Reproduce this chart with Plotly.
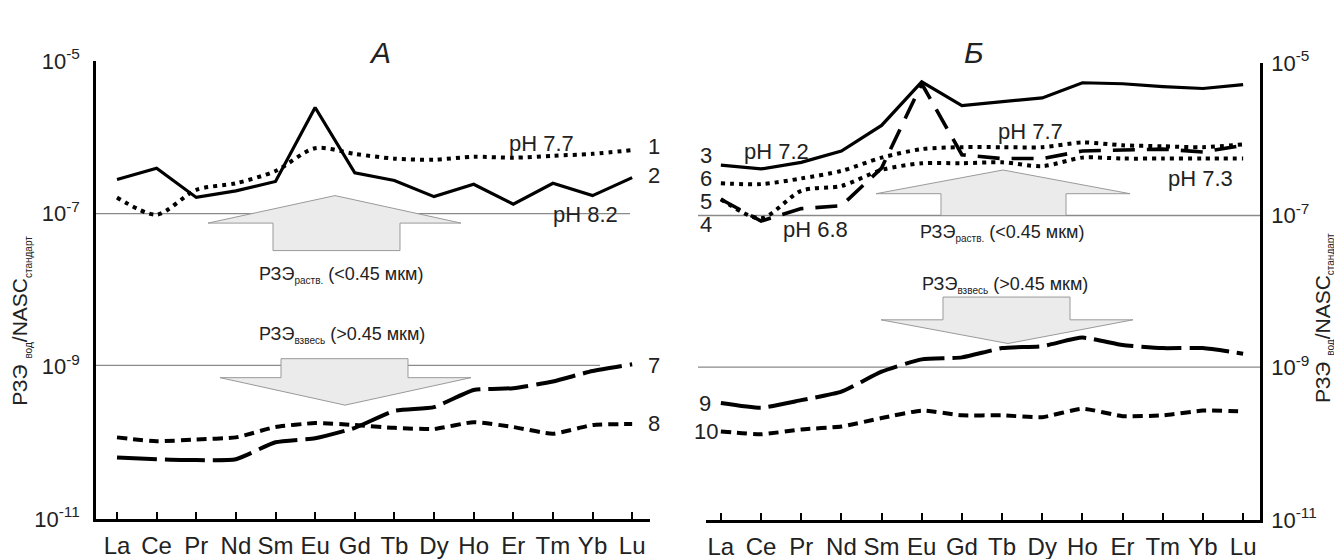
import plotly.graph_objects as go

W, H = 1342, 559

# ---------------- data ----------------
elements = ["La", "Ce", "Pr", "Nd", "Sm", "Eu", "Gd", "Tb", "Dy", "Ho", "Er", "Tm", "Yb", "Lu"]

# Panel А (left)
a_line1_ph77 = [1.63e-7, 9.7e-8, 2.05e-7, 2.50e-7, 3.62e-7, 7.2e-7, 6.07e-7, 5.25e-7, 5.1e-7, 5.56e-7, 5.4e-7, 5.73e-7, 6.07e-7, 6.8e-7]
a_line2_ph82 = [2.80e-7, 3.94e-7, 1.63e-7, 1.99e-7, 2.64e-7, 2.46e-6, 3.42e-7, 2.72e-7, 1.67e-7, 2.43e-7, 1.33e-7, 2.50e-7, 1.72e-7, 2.96e-7]
a_line7 = [6.4e-11, 6.06e-11, 5.9e-11, 6.06e-11, 1.01e-10, 1.14e-10, 1.56e-10, 2.61e-10, 2.92e-10, 4.89e-10, 5.17e-10, 6.32e-10, 8.67e-10, 1.06e-9]
a_line8 = [1.17e-10, 1.04e-10, 1.10e-10, 1.17e-10, 1.60e-10, 1.80e-10, 1.70e-10, 1.56e-10, 1.51e-10, 1.85e-10, 1.60e-10, 1.31e-10, 1.70e-10, 1.75e-10]

# Panel Б (right)
b_line3_ph72 = [4.54e-7, 4.05e-7, 4.94e-7, 6.97e-7, 1.51e-6, 5.64e-6, 2.75e-6, 3.09e-6, 3.47e-6, 5.48e-6, 5.32e-6, 4.89e-6, 4.61e-6, 5.17e-6]
b_line4_ph68 = [1.62e-7, 8.37e-8, 1.22e-7, 1.33e-7, 4.16e-7, 5.32e-6, 6.22e-7, 5.54e-7, 5.54e-7, 6.97e-7, 7.18e-7, 7.38e-7, 6.77e-7, 8.28e-7]
b_line5_ph73 = [1.62e-7, 9.12e-8, 2.09e-7, 2.42e-7, 3.93e-7, 4.81e-7, 4.81e-7, 4.95e-7, 4.41e-7, 5.70e-7, 5.54e-7, 5.54e-7, 5.54e-7, 5.54e-7]
b_line6_ph77 = [2.63e-7, 2.56e-7, 3.04e-7, 3.82e-7, 5.70e-7, 7.38e-7, 7.82e-7, 7.82e-7, 7.82e-7, 9.02e-7, 8.28e-7, 8.04e-7, 7.82e-7, 8.51e-7]
b_line9 = [3.43e-10, 2.97e-10, 3.73e-10, 4.83e-10, 8.81e-10, 1.28e-9, 1.36e-9, 1.80e-9, 1.91e-9, 2.47e-9, 1.97e-9, 1.80e-9, 1.80e-9, 1.52e-9]
b_line10 = [1.45e-10, 1.33e-10, 1.54e-10, 1.68e-10, 2.17e-10, 2.72e-10, 2.36e-10, 2.36e-10, 2.23e-10, 2.88e-10, 2.30e-10, 2.36e-10, 2.72e-10, 2.65e-10]

y_tickvals = [1e-11, 1e-9, 1e-7, 1e-5]
y_ticktext = ["10<sup>-11</sup>", "10<sup>-9</sup>", "10<sup>-7</sup>", "10<sup>-5</sup>"]

FONT = "Liberation Sans, Arial, sans-serif"


def px(x):
    return x / W


def py(y):
    return 1 - y / H


fig = go.Figure()

SOLID = dict(color="black", width=3.2)
DOT = dict(color="black", width=4, dash="4px,5px", shape="spline", smoothing=0.8)
LONG = dict(color="black", width=4, dash="40px,8px", shape="spline", smoothing=0.5)
SHORT = dict(color="black", width=4, dash="10px,6px", shape="spline", smoothing=0.5)
MID = dict(color="black", width=3.6, dash="22px,12px")


def add(x, y, line, xa, ya):
    fig.add_trace(go.Scatter(x=x, y=y, mode="lines", line=line, xaxis=xa, yaxis=ya,
                             showlegend=False, hoverinfo="skip"))


add(elements, a_line1_ph77, DOT, "x", "y")
add(elements, a_line2_ph82, SOLID, "x", "y")
add(elements, a_line7, LONG, "x", "y")
add(elements, a_line8, SHORT, "x", "y")

add(elements, b_line3_ph72, SOLID, "x2", "y2")
add(elements, b_line6_ph77, DOT, "x2", "y2")
add(elements, b_line5_ph73, DOT, "x2", "y2")
add(elements, b_line4_ph68, MID, "x2", "y2")
add(elements, b_line9, LONG, "x2", "y2")
add(elements, b_line10, SHORT, "x2", "y2")

axis_common = dict(showgrid=False, zeroline=False, showline=True, linecolor="black", linewidth=2.5)
XTICKF = dict(size=24, family=FONT, color="#222")
YTICKF = dict(size=22, family=FONT, color="#222")

fig.update_layout(
    width=W, height=H, margin=dict(l=0, r=0, t=0, b=0),
    paper_bgcolor="white", plot_bgcolor="rgba(0,0,0,0)",
    font=dict(family=FONT, color="#222"),
    xaxis=dict(domain=[px(88), px(642)], anchor="y", type="category", range=[-0.53, 13.45],
               ticks="inside", ticklen=7, tickwidth=1.5, tickcolor="black",
               tickfont=XTICKF, ticklabelstandoff=4, **axis_common),
    yaxis=dict(domain=[py(522), py(39)], anchor="x", type="log", range=[-11, -5],
               tickvals=y_tickvals, ticktext=y_ticktext, ticks="",
               tickfont=YTICKF, ticklabelstandoff=9, **axis_common),
    xaxis2=dict(domain=[px(698), px(1252)], anchor="y2", type="category", range=[-0.37, 13.42],
                ticks="inside", ticklen=7, tickwidth=1.5, tickcolor="black",
                tickfont=XTICKF, ticklabelstandoff=4, **axis_common),
    yaxis2=dict(domain=[py(523), py(41)], anchor="x2", side="right", type="log", range=[-11, -5],
                tickvals=y_tickvals, ticktext=y_ticktext, ticks="",
                tickfont=YTICKF, ticklabelstandoff=4, **axis_common),
)

shapes = []
REF = dict(color="#8a8a8a", width=1.3)
# reference horizontal lines
for (x0, x1, y) in [(88, 622, 200), (88, 592, 360), (690, 1252, 202), (690, 1252, 362)]:
    shapes.append(dict(type="line", xref="paper", yref="paper", x0=px(x0), x1=px(x1),
                       y0=py(y), y1=py(y), line=REF, layer="below"))


def poly(pts):
    s = "M " + " L ".join(f"{px(a):.5f},{py(b):.5f}" for a, b in pts) + " Z"
    return dict(type="path", xref="paper", yref="paper", path=s,
                fillcolor="#ebebeb", line=dict(color="#9a9a9a", width=1), layer="below")


# arrows (up: dissolved, down: suspended)
shapes.append(poly([(200, 210), (327, 181), (453, 210), (392, 210), (392, 239), (265, 239), (265, 210)]))
shapes.append(poly([(273, 353), (400, 353), (400, 373), (463, 373), (337, 402), (212, 373), (273, 373)]))
shapes.append(poly([(868, 179), (995, 154), (1122, 179), (1058, 179), (1058, 202), (933, 202), (933, 179)]))
shapes.append(poly([(935, 288), (1062, 288), (1062, 312), (1125, 312), (1000, 337), (873, 312), (935, 312)]))
fig.update_layout(shapes=shapes)

ann = []


def text(x, y, t, size=22, xanchor="center", angle=0):
    ann.append(dict(x=px(x), y=py(y), xref="paper", yref="paper", text=t, showarrow=False,
                    xanchor=xanchor, yanchor="middle", textangle=angle,
                    font=dict(size=size, family=FONT, color="#222")))


def small(t, s):
    return f'<span style="font-size:{s}px">{t}</span>'


text(372, 30, "<i>А</i>", size=30)
text(966, 30, "<i>Б</i>", size=30)

# left panel labels
text(646, 129, "1")
text(646, 160, "2")
text(646, 360, "7")
text(646, 421, "8")
text(533, 126, "pH 7.7")
text(577, 201, "pH 8.2")
DISS = "РЗЭ<sub>" + small("раств.", 10) + "</sub> (<0.45 мкм)"
SUSP = "РЗЭ<sub>" + small("взвесь", 10) + "</sub> (>0.45 мкм)"
text(333, 265, DISS, size=18)
text(334, 328, SUSP, size=18)

# right panel labels
text(698, 139, "3")
text(698, 163, "6")
text(698, 187, "5")
text(698, 211, "4")
text(768, 134, "pH 7.2")
text(807, 217, "pH 6.8")
text(1022, 113, "pH 7.7")
text(1192, 163, "pH 7.3")
text(697, 400, "9")
text(712, 430, "10", xanchor="right")
text(994, 220, DISS, size=18)
text(997, 275, SUSP, size=18)

# axis titles
YT = "РЗЭ <sub>" + small("вод", 10) + "</sub>/NASC<sub>" + small("стандарт", 10) + "</sub>"
text(13, 313, YT, size=21, angle=-90)
text(1316, 310, YT, size=21, angle=-90)

fig.update_layout(annotations=ann)

fig.write_html("out.html")
